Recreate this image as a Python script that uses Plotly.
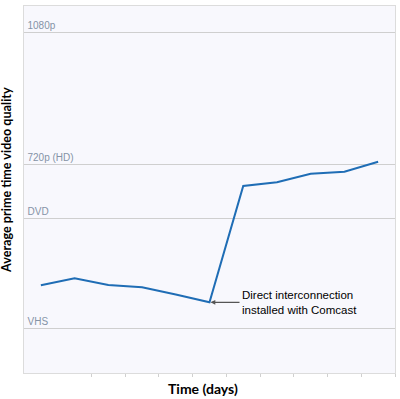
import plotly.graph_objects as go

days = [0.5, 1.5, 2.5, 3.5, 4.5, 5.5, 6.5, 7.5, 8.5, 9.5, 10.5]
quality = [23.9, 25.8, 24.0, 23.35, 21.4, 19.26, 50.95, 51.96, 54.31, 54.85, 57.57]
level_vals = [12.18, 42.15, 56.68, 92.83]
level_labels = ["VHS", "DVD", "720p (HD)", "1080p"]
x_ticks = list(range(0, 12))

fig = go.Figure()
fig.add_trace(go.Scatter(x=days, y=quality, mode="lines",
                         line=dict(color="#1f6db5", width=2), hoverinfo="skip"))

fig.add_annotation(x=days[5], y=quality[5], ax=30, ay=0, axref="pixel", ayref="pixel",
                   text="Direct interconnection<br>installed with Comcast",
                   showarrow=True, arrowhead=2, arrowsize=0.8, arrowwidth=1.2, arrowcolor="#555555",
                   xanchor="left", align="left", standoff=1,
                   font=dict(family="Liberation Sans, Arial", size=11.5, color="#000000"))

fig.add_annotation(xref="paper", yref="paper", x=-0.046, y=0.526, textangle=-90,
                   text="<b>Average prime time video quality</b>", showarrow=False,
                   xanchor="center", yanchor="middle",
                   font=dict(family="Lato, Open Sans", size=12.6, color="black"))
fig.add_annotation(xref="paper", yref="paper", x=0.482, y=-0.041,
                   text="<b>Time (days)</b>", showarrow=False,
                   xanchor="center", yanchor="middle",
                   font=dict(family="Lato, Open Sans", size=14, color="black"))

fig.update_layout(
    width=400, height=399,
    margin=dict(l=24, r=5, t=6, b=26),
    paper_bgcolor="white", plot_bgcolor="#f8f8fd",
    showlegend=False,
    xaxis=dict(range=[0, 11], tickvals=x_ticks, ticktext=[""] * len(x_ticks),
               ticks="outside", ticklen=3, tickcolor="#d0d0d0",
               showgrid=False, zeroline=False,
               showline=True, linecolor="#dcdcdc", linewidth=1, mirror=True),
    yaxis=dict(range=[0, 100], tickvals=level_vals, ticktext=level_labels,
               ticklabelposition="inside top", ticks="", ticklabelstandoff=2,
               tickfont=dict(family="Liberation Sans, Arial", size=10, color="#8593a6"),
               showgrid=True, gridcolor="#cfcfcf", gridwidth=1, zeroline=False,
               showline=True, linecolor="#dcdcdc", linewidth=1, mirror=True),
)

fig.write_html("out.html")
